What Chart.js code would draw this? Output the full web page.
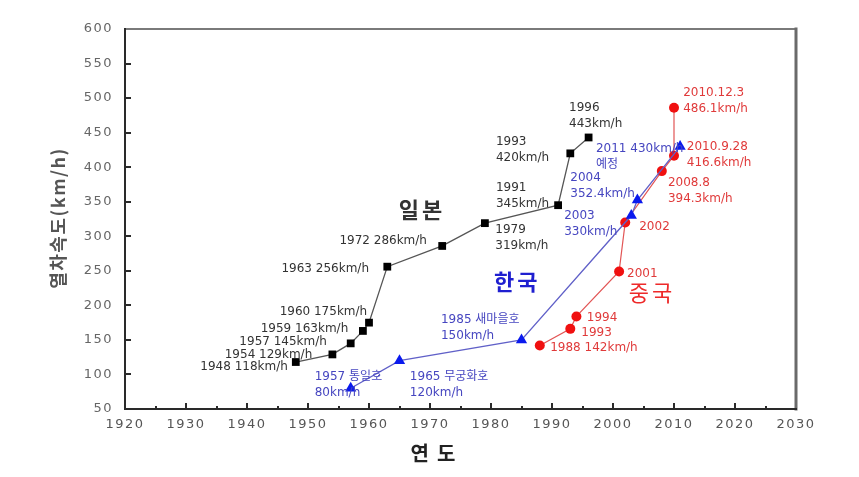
<!DOCTYPE html>
<html><head><meta charset="utf-8">
<script src="https://cdn.jsdelivr.net/npm/chart.js@4/dist/chart.umd.min.js"></script>
<style>html,body{margin:0;padding:0;background:#fff;overflow:hidden}#wrap{width:859px;height:477px}</style>
</head><body><div id="wrap"><canvas id="c" width="859" height="477"></canvas></div>
<script>
// ---- data ----
const japanYears  = [1948, 1954, 1957, 1959, 1960, 1963, 1972, 1979, 1991, 1993, 1996];
const japanSpeeds = [118, 129, 145, 163, 175, 256, 286, 319, 345, 420, 443];
const koreaYears  = [1957, 1965, 1985, 2003, 2004, 2011];
const koreaSpeeds = [80, 120, 150, 330, 352.4, 430];
const chinaYears  = [1988, 1993, 1994, 2001, 2002, 2008, 2010, 2010];
const chinaSpeeds = [142, 166, 184, 249, 320, 394.3, 416.6, 486.1];
const xTickValues = [1920, 1930, 1940, 1950, 1960, 1970, 1980, 1990, 2000, 2010, 2020, 2030];
const yTickValues = [50, 100, 150, 200, 250, 300, 350, 400, 450, 500, 550, 600];
const xTitle = '연도';
const yTitle = '열차속도(km/h)';
const countryNames = ['일본', '한국', '중국'];
const countryNameAt = [[1968.7, 338], [1984.3, 235], [2006.4, 218]];
// annotation texts with anchor in data coordinates
const japanNotes = [
  {t: ['1948 118km/h'], x: 1946.7, y: 111, a: 'right'},
  {t: ['1954 129km/h'], x: 1950.7, y: 128, a: 'right'},
  {t: ['1957 145km/h'], x: 1953.1, y: 147, a: 'right'},
  {t: ['1959 163km/h'], x: 1956.6, y: 166, a: 'right'},
  {t: ['1960 175km/h'], x: 1959.7, y: 190, a: 'right'},
  {t: ['1963 256km/h'], x: 1960.0, y: 253, a: 'right'},
  {t: ['1972 286km/h'], x: 1969.5, y: 293, a: 'right'},
  {t: ['1979', '319km/h'], x: 1980.7, y: 309, a: 'left'},
  {t: ['1991', '345km/h'], x: 1980.8, y: 370, a: 'left'},
  {t: ['1993', '420km/h'], x: 1980.8, y: 436, a: 'left'},
  {t: ['1996', '443km/h'], x: 1992.8, y: 486, a: 'left'}
];
const koreaNotes = [
  {t: ['1957 통일호', '80km/h'], x: 1951.1, y: 96, a: 'left'},
  {t: ['1965 무궁화호', '120km/h'], x: 1966.7, y: 96, a: 'left'},
  {t: ['1985 새마을호', '150km/h'], x: 1971.8, y: 179, a: 'left'},
  {t: ['2003', '330km/h'], x: 1992.0, y: 329, a: 'left'},
  {t: ['2004', '352.4km/h'], x: 1993.0, y: 384, a: 'left'},
  {t: ['2011 430km/h', '예정'], x: 1997.2, y: 427, a: 'left'}
];
const chinaNotes = [
  {t: ['1988 142km/h'], x: 1989.7, y: 138, a: 'left'},
  {t: ['1993'], x: 1994.8, y: 160, a: 'left'},
  {t: ['1994'], x: 1995.7, y: 182, a: 'left'},
  {t: ['2001'], x: 2002.3, y: 245, a: 'left'},
  {t: ['2002'], x: 2004.3, y: 313, a: 'left'},
  {t: ['2008.8', '394.3km/h'], x: 2009.0, y: 378, a: 'left'},
  {t: ['2010.9.28', '416.6km/h'], x: 2012.1, y: 429, a: 'left'},
  {t: ['2010.12.3', '486.1km/h'], x: 2011.5, y: 507, a: 'left'}
];

const pts = (xs, ys) => xs.map((x, i) => ({x: x, y: ys[i]}));

const decor = {
  id: 'decor',
  beforeDraw(chart) { chart.ctx.letterSpacing = '1.5px'; },
  beforeDatasetsDraw(chart) {
    const ctx = chart.ctx, ca = chart.chartArea, xs = chart.scales.x, ys = chart.scales.y;
    ctx.save();
    ctx.letterSpacing = '0px';
    // frame
    ctx.lineCap = 'square';
    ctx.strokeStyle = '#7a7a7a'; ctx.lineWidth = 2;
    ctx.beginPath(); ctx.moveTo(ca.left, ca.top); ctx.lineTo(ca.right, ca.top); ctx.stroke();
    ctx.strokeStyle = '#6a6a6a'; ctx.lineWidth = 3;
    ctx.beginPath(); ctx.moveTo(ca.right, ca.top); ctx.lineTo(ca.right, ca.bottom); ctx.stroke();
    ctx.strokeStyle = '#2a2a2a'; ctx.lineWidth = 2;
    ctx.beginPath(); ctx.moveTo(ca.left, ca.top); ctx.lineTo(ca.left, ca.bottom); ctx.lineTo(ca.right, ca.bottom); ctx.stroke();
    // inward ticks
    ctx.lineWidth = 2; ctx.lineCap = 'butt';
    ctx.beginPath();
    for (let v = 1925; v < 2030; v += 5) {
      const px = Math.round(xs.getPixelForValue(v));
      const len = (v % 10 === 0) ? 6 : 3;
      ctx.moveTo(px, ca.bottom); ctx.lineTo(px, ca.bottom - len);
    }
    for (let i = 1; i < yTickValues.length - 1; i++) {
      const py = Math.round(ys.getPixelForValue(yTickValues[i]));
      ctx.moveTo(ca.left, py); ctx.lineTo(ca.left + 6, py);
    }
    ctx.stroke();
    // axis titles
    ctx.fillStyle = '#555';
    ctx.font = 'bold 18px "Noto Sans CJK KR"';
    ctx.letterSpacing = '1.5px';
    ctx.textAlign = 'center'; ctx.textBaseline = 'middle';
    ctx.save(); ctx.translate(58, 218); ctx.rotate(-Math.PI / 2); ctx.fillText(yTitle, 0, 0); ctx.restore();
    ctx.fillStyle = '#222';
    ctx.font = 'bold 20px "Noto Sans CJK KR"';
    ctx.letterSpacing = '8px';
    ctx.fillText(xTitle, 437, 453);
    ctx.restore();
  },
  afterDatasetsDraw(chart) {
    const ctx = chart.ctx, xs = chart.scales.x, ys = chart.scales.y;
    ctx.save();
    ctx.letterSpacing = '0px';
    ctx.textBaseline = 'middle';
    const draw = (notes, color) => {
      ctx.fillStyle = color;
      ctx.font = '12px "DejaVu Sans", "Noto Sans CJK KR"';
      notes.forEach(n => {
        ctx.textAlign = n.a;
        const px = xs.getPixelForValue(n.x), py = ys.getPixelForValue(n.y);
        n.t.forEach((line, i) => ctx.fillText(line, px, py + i * 16));
      });
    };
    draw(japanNotes, '#333');
    draw(koreaNotes, '#4646c0');
    draw(chinaNotes, '#e03a3a');
    // country names
    const nameColors = ['#333', '#1f1fd0', '#ee2a2a'];
    const nameFonts = ['bold 22px "Noto Sans CJK KR"', 'bold 22px "Noto Sans CJK KR"', '22px "Noto Sans CJK KR"'];
    ctx.textAlign = 'center';
    countryNames.forEach((nm, i) => {
      ctx.fillStyle = nameColors[i]; ctx.font = nameFonts[i]; ctx.letterSpacing = '3px';
      ctx.fillText(nm, xs.getPixelForValue(countryNameAt[i][0]), ys.getPixelForValue(countryNameAt[i][1]));
    });
    ctx.restore();
  }
};

new Chart(document.getElementById('c'), {
  type: 'line',
  data: {
    datasets: [
      {label: '일본', data: pts(japanYears, japanSpeeds), borderColor: '#555', borderWidth: 1.3,
       pointStyle: 'rect', pointRadius: 5.5, pointBackgroundColor: '#000', pointBorderColor: '#000', pointBorderWidth: 0},
      {label: '한국', data: pts(koreaYears, koreaSpeeds), borderColor: '#6060c8', borderWidth: 1.3,
       pointStyle: 'triangle', pointRadius: 6.5, pointBackgroundColor: '#0a1aee', pointBorderColor: '#0a1aee', pointBorderWidth: 0},
      {label: '중국', data: pts(chinaYears, chinaSpeeds), borderColor: '#e25555', borderWidth: 1.2,
       pointStyle: 'circle', pointRadius: 5, pointBackgroundColor: '#f01010', pointBorderColor: '#f01010', pointBorderWidth: 0}
    ]
  },
  options: {
    responsive: false, animation: false, devicePixelRatio: 1,
    layout: {padding: {top: 29, right: 63, left: 0, bottom: 0}},
    plugins: {legend: {display: false}, tooltip: {enabled: false}},
    elements: {line: {tension: 0}},
    scales: {
      x: {
        type: 'linear', min: 1920, max: 2030,
        afterBuildTicks: s => { s.ticks = xTickValues.map(v => ({value: v})); },
        afterFit: s => { s.height = 68; },
        grid: {display: false, drawTicks: false}, border: {display: false},
        ticks: {color: '#555', padding: 8, font: {family: 'DejaVu Sans', size: 13}, callback: v => String(v), maxRotation: 0, autoSkip: false}
      },
      y: {
        type: 'linear', min: 50, max: 600,
        afterBuildTicks: s => { s.ticks = yTickValues.map(v => ({value: v})); },
        afterFit: s => { s.width = 125; },
        grid: {display: false, drawTicks: false}, border: {display: false},
        ticks: {color: '#666', padding: 12, font: {family: 'DejaVu Sans', size: 13}, callback: v => String(v), autoSkip: false}
      }
    }
  },
  plugins: [decor]
});
</script></body></html>
